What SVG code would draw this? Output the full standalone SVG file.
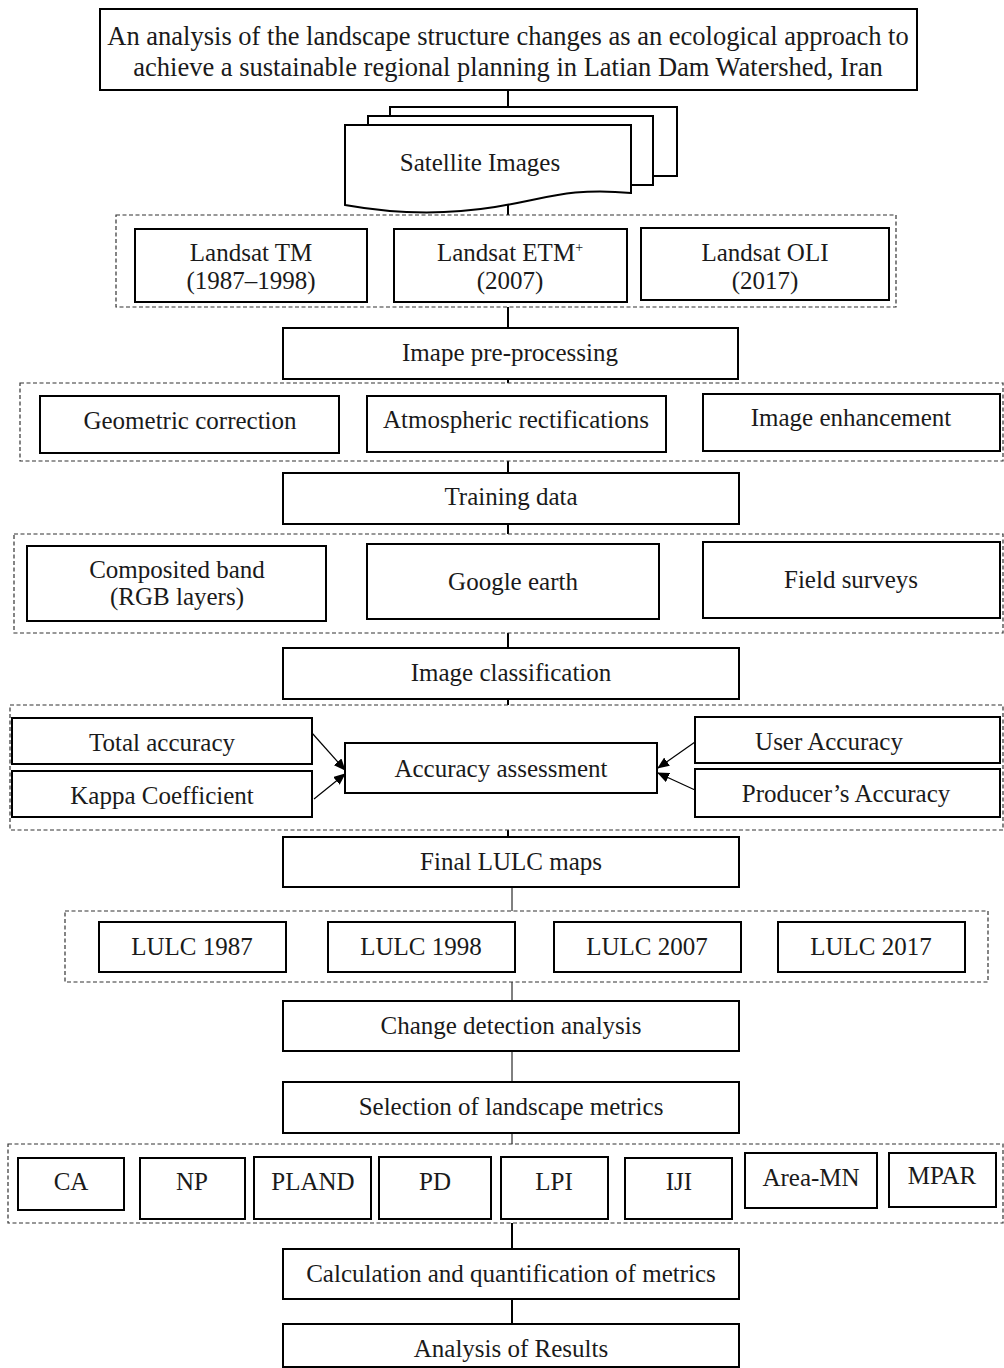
<svg xmlns="http://www.w3.org/2000/svg" width="1004" height="1368" viewBox="0 0 1004 1368">
<style>
.box{fill:#fff;stroke:#000;stroke-width:2}
.grp{fill:none;stroke:#333;stroke-width:1.2;stroke-dasharray:4 2.5}
.t{font-family:"Liberation Serif","Times New Roman",serif;font-size:25px;fill:#1a1a1a;text-anchor:middle}
.ln{stroke:#000;stroke-width:2;fill:none}
.ar{stroke:#000;stroke-width:1.2;fill:none;marker-end:url(#ah)}
</style>
<defs>
<marker id="ah" markerWidth="12" markerHeight="10" refX="11" refY="5" orient="auto" markerUnits="userSpaceOnUse">
<path d="M0,0 L12,5 L0,10 Z" fill="#000"/>
</marker>
</defs>
<rect width="1004" height="1368" fill="#fff"/>

<g id="connectors">
<line class="ln" x1="508" y1="90" x2="508" y2="107"/>
<line class="ln" x1="508" y1="203" x2="508" y2="215"/>
<line class="ln" x1="508" y1="307" x2="508" y2="328"/>
<line class="ln" x1="508" y1="379" x2="508" y2="383"/>
<line class="ln" x1="508" y1="461" x2="508" y2="473"/>
<line class="ln" x1="508" y1="524" x2="508" y2="534"/>
<line class="ln" x1="508" y1="633" x2="508" y2="648"/>
<line class="ln" x1="508" y1="699" x2="508" y2="705"/>
<line class="ln" x1="508" y1="830" x2="508" y2="837"/>
<line class="ln" x1="512" y1="887" x2="512" y2="911" style="stroke-width:1"/>
<line class="ln" x1="512" y1="982" x2="512" y2="1001" style="stroke-width:1"/>
<line class="ln" x1="512" y1="1051" x2="512" y2="1082" style="stroke-width:1"/>
<line class="ln" x1="512" y1="1133" x2="512" y2="1144" style="stroke-width:1"/>
<line class="ln" x1="512" y1="1223" x2="512" y2="1249"/>
<line class="ln" x1="512" y1="1299" x2="512" y2="1324"/>
<line class="ar" x1="312" y1="733" x2="345" y2="770"/>
<line class="ar" x1="314" y1="799" x2="345" y2="774"/>
<line class="ar" x1="695" y1="742" x2="658" y2="768"/>
<line class="ar" x1="695" y1="790" x2="658" y2="773"/>
</g>

<g id="groups">
<rect class="grp" x="116" y="215" width="780" height="92"/>
<rect class="grp" x="20" y="383" width="983" height="78"/>
<rect class="grp" x="14" y="534" width="989" height="99"/>
<rect class="grp" x="10" y="705" width="993" height="125"/>
<rect class="grp" x="65" y="911" width="923" height="71"/>
<rect class="grp" x="8" y="1144" width="995" height="79"/>
</g>

<g id="title">
<rect class="box" x="100" y="9" width="817" height="81"/>
<text class="t" x="508" y="45" style="font-size:26.5px">An analysis of the landscape structure changes as an ecological approach to</text>
<text class="t" x="508" y="76" style="font-size:26.5px">achieve a sustainable regional planning in Latian Dam Watershed, Iran</text>
</g>

<g id="satellite">
<rect class="box" x="390" y="107" width="287" height="69"/>
<rect class="box" x="368" y="116" width="285" height="69"/>
<path class="box" d="M345,125 H631 V193 C570,187 545,199 495,207 C445,215 395,214 345,205 Z"/>
<text class="t" x="480" y="171">Satellite Images</text>
</g>

<g id="landsat-tm">
<rect class="box" x="135" y="229" width="232" height="73"/>
<text class="t" x="251" y="261">Landsat TM</text>
<text class="t" x="251" y="289">(1987–1998)</text>
</g>
<g id="landsat-etm">
<rect class="box" x="394" y="229" width="233" height="73"/>
<text class="t" x="510" y="261">Landsat ETM<tspan dy="-9" style="font-size:14px">+</tspan></text>
<text class="t" x="510" y="289">(2007)</text>
</g>
<g id="landsat-oli">
<rect class="box" x="641" y="228" width="248" height="72"/>
<text class="t" x="765" y="261">Landsat OLI</text>
<text class="t" x="765" y="289">(2017)</text>
</g>

<g id="preprocessing">
<rect class="box" x="283" y="328" width="455" height="51"/>
<text class="t" x="510" y="361">Imape pre-processing</text>
</g>
<g id="geometric">
<rect class="box" x="40" y="396" width="299" height="57"/>
<text class="t" x="190" y="429">Geometric correction</text>
</g>
<g id="atmospheric">
<rect class="box" x="367" y="396" width="299" height="56"/>
<text class="t" x="516" y="428">Atmospheric rectifications</text>
</g>
<g id="enhancement">
<rect class="box" x="703" y="394" width="297" height="57"/>
<text class="t" x="851" y="426">Image enhancement</text>
</g>

<g id="training">
<rect class="box" x="283" y="473" width="456" height="51"/>
<text class="t" x="511" y="505">Training data</text>
</g>
<g id="composited">
<rect class="box" x="27" y="546" width="299" height="75"/>
<text class="t" x="177" y="578">Composited band</text>
<text class="t" x="177" y="605">(RGB layers)</text>
</g>
<g id="google">
<rect class="box" x="367" y="544" width="292" height="75"/>
<text class="t" x="513" y="590">Google earth</text>
</g>
<g id="field">
<rect class="box" x="703" y="542" width="297" height="76"/>
<text class="t" x="851" y="588">Field surveys</text>
</g>

<g id="classification">
<rect class="box" x="283" y="648" width="456" height="51"/>
<text class="t" x="511" y="681">Image classification</text>
</g>
<g id="total-accuracy">
<rect class="box" x="12" y="718" width="300" height="46"/>
<text class="t" x="162" y="751">Total accuracy</text>
</g>
<g id="kappa">
<rect class="box" x="12" y="771" width="300" height="46"/>
<text class="t" x="162" y="804">Kappa Coefficient</text>
</g>
<g id="accuracy-assessment">
<rect class="box" x="345" y="743" width="312" height="50"/>
<text class="t" x="501" y="777">Accuracy assessment</text>
</g>
<g id="user-accuracy">
<rect class="box" x="695" y="717" width="305" height="46"/>
<text class="t" x="829" y="750">User Accuracy</text>
</g>
<g id="producer-accuracy">
<rect class="box" x="695" y="769" width="305" height="48"/>
<text class="t" x="846" y="802">Producer’s Accuracy</text>
</g>

<g id="final-lulc">
<rect class="box" x="283" y="837" width="456" height="50"/>
<text class="t" x="511" y="870">Final LULC maps</text>
</g>
<g id="lulc-1987">
<rect class="box" x="99" y="922" width="187" height="50"/>
<text class="t" x="192" y="955">LULC 1987</text>
</g>
<g id="lulc-1998">
<rect class="box" x="328" y="922" width="187" height="50"/>
<text class="t" x="421" y="955">LULC 1998</text>
</g>
<g id="lulc-2007">
<rect class="box" x="554" y="922" width="187" height="50"/>
<text class="t" x="647" y="955">LULC 2007</text>
</g>
<g id="lulc-2017">
<rect class="box" x="778" y="922" width="187" height="50"/>
<text class="t" x="871" y="955">LULC 2017</text>
</g>

<g id="change-detection">
<rect class="box" x="283" y="1001" width="456" height="50"/>
<text class="t" x="511" y="1034">Change detection analysis</text>
</g>
<g id="selection">
<rect class="box" x="283" y="1082" width="456" height="51"/>
<text class="t" x="511" y="1115">Selection of landscape metrics</text>
</g>

<g id="m-ca"><rect class="box" x="18" y="1158" width="106" height="52"/><text class="t" x="71" y="1190">CA</text></g>
<g id="m-np"><rect class="box" x="140" y="1158" width="105" height="61"/><text class="t" x="192" y="1190">NP</text></g>
<g id="m-pland"><rect class="box" x="254" y="1157" width="117" height="62"/><text class="t" x="313" y="1190">PLAND</text></g>
<g id="m-pd"><rect class="box" x="379" y="1157" width="112" height="62"/><text class="t" x="435" y="1190">PD</text></g>
<g id="m-lpi"><rect class="box" x="501" y="1157" width="107" height="62"/><text class="t" x="554" y="1190">LPI</text></g>
<g id="m-iji"><rect class="box" x="625" y="1158" width="107" height="61"/><text class="t" x="679" y="1190">IJI</text></g>
<g id="m-areamn"><rect class="box" x="745" y="1153" width="132" height="55"/><text class="t" x="811" y="1186">Area-MN</text></g>
<g id="m-mpar"><rect class="box" x="889" y="1153" width="107" height="54"/><text class="t" x="942" y="1184">MPAR</text></g>

<g id="calculation">
<rect class="box" x="283" y="1249" width="456" height="50"/>
<text class="t" x="511" y="1282">Calculation and quantification of metrics</text>
</g>
<g id="analysis">
<rect class="box" x="283" y="1324" width="456" height="43"/>
<text class="t" x="511" y="1357">Analysis of Results</text>
</g>
</svg>
